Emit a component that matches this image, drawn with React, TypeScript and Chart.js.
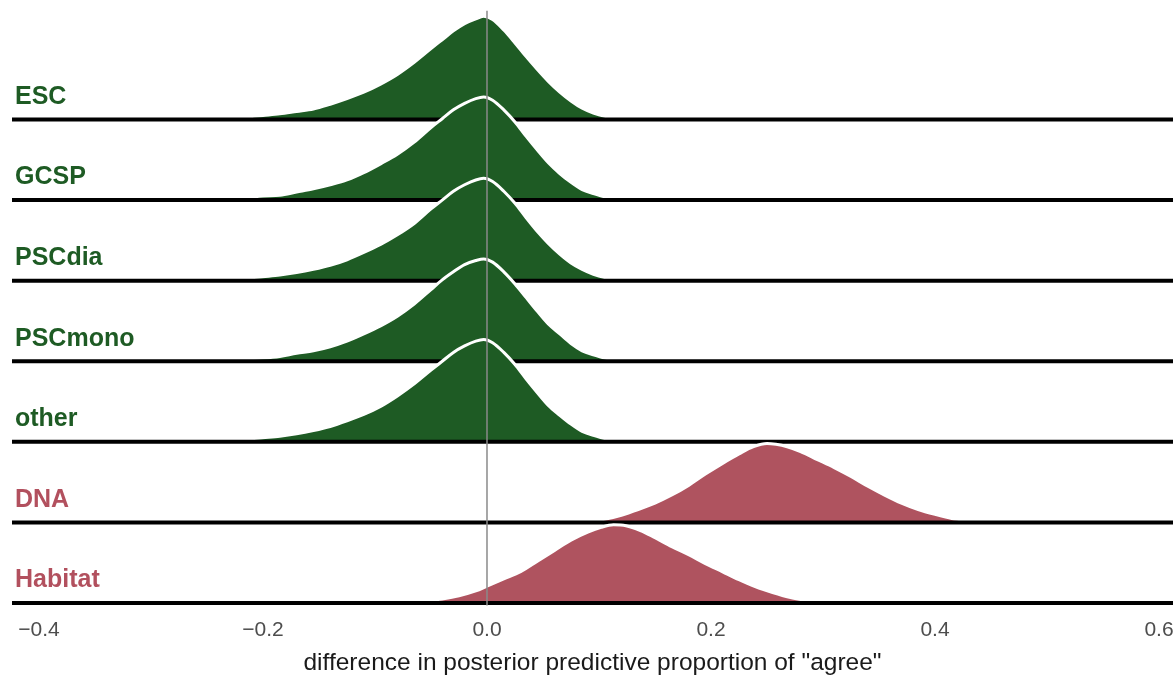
import React, { useEffect, useRef } from "react";
import { Chart, registerables } from "chart.js";

Chart.register(...registerables);

// ---------- data ----------
const categories = ["ESC", "GCSP", "PSCdia", "PSCmono", "other", "DNA", "Habitat"];
const baselines = [6, 5, 4, 3, 2, 1, 0];
const fillColors = ["#1e5b24", "#1e5b24", "#1e5b24", "#1e5b24", "#1e5b24", "#af535f", "#af535f"];
const labelColors = ["#1e5b24", "#1e5b24", "#1e5b24", "#1e5b24", "#1e5b24", "#b2505e", "#b2505e"];
const xTickValues = [-0.4, -0.2, 0.0, 0.2, 0.4, 0.6];
const xTitle = 'difference in posterior predictive proportion of "agree"';

const greenX = [-0.245, -0.23, -0.215, -0.2, -0.185, -0.17, -0.155, -0.14, -0.125, -0.11, -0.095, -0.08, -0.065, -0.05, -0.04, -0.03, -0.02, -0.01, -0.003, 0.005, 0.015, 0.025, 0.035, 0.045, 0.055, 0.065, 0.075, 0.085, 0.095, 0.105, 0.118, 0.13];
const escDensity = [0.0, 0.015, 0.03, 0.05, 0.07, 0.1, 0.13, 0.19, 0.26, 0.34, 0.44, 0.56, 0.71, 0.88, 0.99, 1.1, 1.19, 1.25, 1.28, 1.24, 1.11, 0.95, 0.78, 0.62, 0.47, 0.34, 0.23, 0.14, 0.08, 0.04, 0.012, 0.0];
const gcspDensity = [0.0, 0.015, 0.03, 0.05, 0.06, 0.1, 0.14, 0.19, 0.25, 0.34, 0.45, 0.57, 0.72, 0.9, 1.01, 1.12, 1.2, 1.26, 1.28, 1.24, 1.12, 0.97, 0.79, 0.62, 0.46, 0.33, 0.22, 0.13, 0.08, 0.04, 0.012, 0.0];
const pscdiaDensity = [0.0, 0.015, 0.03, 0.05, 0.07, 0.1, 0.14, 0.19, 0.26, 0.35, 0.45, 0.57, 0.71, 0.89, 1.0, 1.11, 1.19, 1.25, 1.27, 1.23, 1.11, 0.96, 0.78, 0.61, 0.46, 0.33, 0.22, 0.14, 0.08, 0.04, 0.012, 0.0];
const pscmonoDensity = [0.0, 0.015, 0.03, 0.04, 0.06, 0.1, 0.13, 0.18, 0.25, 0.34, 0.44, 0.56, 0.71, 0.89, 1.01, 1.11, 1.2, 1.25, 1.27, 1.23, 1.11, 0.96, 0.79, 0.62, 0.46, 0.34, 0.22, 0.13, 0.08, 0.04, 0.012, 0.0];
const otherDensity = [0.0, 0.015, 0.03, 0.05, 0.07, 0.1, 0.14, 0.19, 0.26, 0.34, 0.44, 0.57, 0.72, 0.89, 1.0, 1.11, 1.19, 1.25, 1.27, 1.23, 1.11, 0.96, 0.78, 0.61, 0.45, 0.33, 0.22, 0.13, 0.08, 0.04, 0.012, 0.0];

const dnaX = [0.075, 0.09, 0.105, 0.12, 0.135, 0.15, 0.165, 0.18, 0.195, 0.21, 0.225, 0.238, 0.25, 0.258, 0.268, 0.28, 0.295, 0.31, 0.325, 0.34, 0.355, 0.37, 0.385, 0.4, 0.415, 0.43, 0.442, 0.455];
const dnaDensity = [0.0, 0.015, 0.04, 0.09, 0.16, 0.24, 0.34, 0.46, 0.6, 0.73, 0.85, 0.94, 0.98, 0.97, 0.94, 0.88, 0.78, 0.68, 0.57, 0.45, 0.34, 0.24, 0.16, 0.1, 0.05, 0.025, 0.01, 0.0];

const habitatX = [-0.085, -0.07, -0.055, -0.04, -0.025, -0.01, 0.0, 0.015, 0.03, 0.045, 0.06, 0.075, 0.09, 0.102, 0.113, 0.124, 0.137, 0.15, 0.165, 0.18, 0.195, 0.21, 0.225, 0.24, 0.255, 0.27, 0.285, 0.3];
const habitatDensity = [0.0, 0.015, 0.03, 0.05, 0.09, 0.15, 0.21, 0.3, 0.39, 0.52, 0.65, 0.78, 0.88, 0.94, 0.97, 0.96, 0.9, 0.81, 0.7, 0.6, 0.49, 0.39, 0.29, 0.2, 0.13, 0.07, 0.03, 0.0];

const seriesX = [greenX, greenX, greenX, greenX, greenX, dnaX, habitatX];
const seriesDensity = [escDensity, gcspDensity, pscdiaDensity, pscmonoDensity, otherDensity, dnaDensity, habitatDensity];

// ---------- layout constants ----------
const X_MIN = -0.4241;
const X_MAX = 0.6125;
const Y_MIN = -0.125;
const Y_MAX = 7.483;
const LABEL_OFFSET = 0.28;
const ZERO_LINE = [-0.03, 7.35];
const FONT = "'Liberation Sans', Arial, sans-serif";

function fmtTick(v: number): string {
  const s = Math.abs(v).toFixed(1);
  return v < -1e-9 ? "\u2212" + s : s;
}

export default function App() {
  const ref = useRef<HTMLCanvasElement | null>(null);

  useEffect(() => {
    if (!ref.current) return;
    const datasets: any[] = [];
    let paint = 0;
    categories.forEach((name, i) => {
      const b = baselines[i];
      datasets.push({
        type: "line",
        label: name,
        data: seriesX[i].map((x, j) => ({ x, y: b + seriesDensity[i][j] })),
        borderColor: "#ffffff",
        borderWidth: 3,
        backgroundColor: fillColors[i],
        fill: { value: b },
        pointRadius: 0,
        cubicInterpolationMode: "monotone",
        clip: false,
        order: 1000 - paint++,
      });
      datasets.push({
        type: "line",
        label: name + " baseline",
        data: [
          { x: X_MIN, y: b },
          { x: X_MAX, y: b },
        ],
        borderColor: "#000000",
        borderWidth: 4,
        pointRadius: 0,
        fill: false,
        clip: false,
        order: 1000 - paint++,
      });
    });
    datasets.push({
      type: "line",
      label: "zero",
      data: [
        { x: 0, y: ZERO_LINE[0] },
        { x: 0, y: ZERO_LINE[1] },
      ],
      borderColor: "#8a8a8a",
      borderWidth: 1.5,
      pointRadius: 0,
      fill: false,
      clip: false,
      order: 0,
    });

    const chart = new Chart(ref.current, {
      type: "line",
      data: { datasets },
      options: {
        animation: false,
        responsive: true,
        maintainAspectRatio: false,
        layout: { padding: { left: 6, right: 0, top: 0, bottom: 0 } },
        plugins: {
          legend: { display: false },
          tooltip: { enabled: false },
        },
        scales: {
          x: {
            type: "linear",
            min: X_MIN,
            max: X_MAX,
            grid: { display: false, drawTicks: false },
            border: { display: false },
            afterBuildTicks: (s: any) => {
              s.ticks = xTickValues.map((v) => ({ value: v }));
            },
            afterFit: (s: any) => {
              s.paddingLeft = 0;
              s.paddingRight = 0;
            },
            ticks: {
              padding: 5,
              autoSkip: false,
              maxRotation: 0,
              color: "#4d4d4d",
              font: { family: FONT, size: 21 },
              callback: (v: any) => fmtTick(Number(v)),
            },
            title: {
              display: true,
              text: xTitle,
              color: "#1a1a1a",
              font: { family: FONT, size: 24.5 },
              padding: { top: 0.3, bottom: 0 },
            },
          },
          y: {
            type: "linear",
            min: Y_MIN,
            max: Y_MAX,
            grid: { display: false, drawTicks: false },
            border: { display: false },
            afterBuildTicks: (s: any) => {
              s.ticks = baselines.map((b) => ({ value: b + LABEL_OFFSET }));
            },
            afterFit: (s: any) => {
              s.paddingTop = 0;
              s.paddingBottom = 0;
            },
            ticks: {
              mirror: true,
              padding: 3,
              autoSkip: false,
              crossAlign: "near",
              color: (ctx: any) => labelColors[ctx.index] || "#000",
              font: { family: FONT, size: 25, weight: "bold" },
              callback: (_v: any, i: number) => categories[i],
            },
          },
        },
      } as any,
    });
    return () => chart.destroy();
  }, []);

  return (
    <div style={{ position: "fixed", left: 0, top: 0, width: 1173, height: 678, background: "#ffffff" }}>
      <canvas ref={ref} />
    </div>
  );
}
